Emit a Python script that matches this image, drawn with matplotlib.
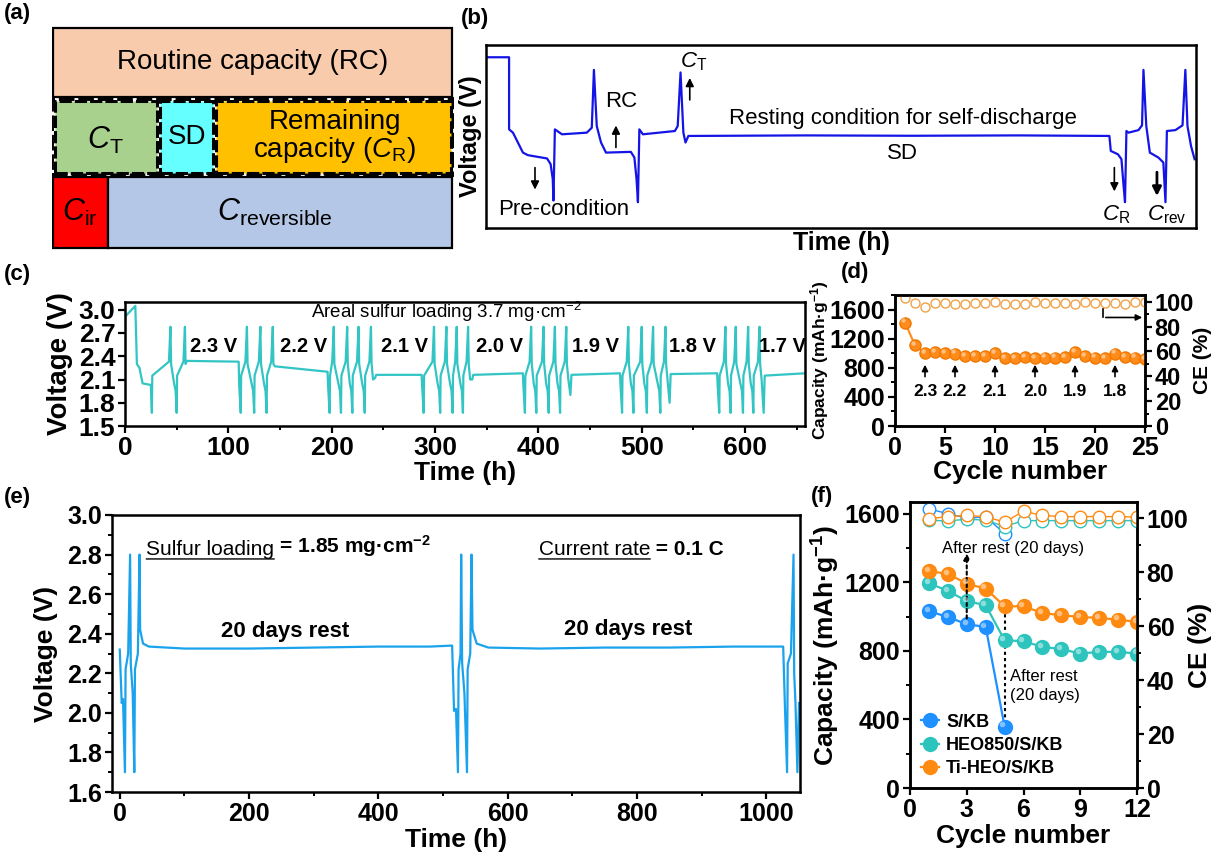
import numpy as np
import matplotlib
matplotlib.use('Agg')
import matplotlib.pyplot as plt
import matplotlib.transforms as mtransforms
from matplotlib.patches import Rectangle
from matplotlib.ticker import MultipleLocator

plt.rcParams['font.family'] = ['Liberation Sans', 'DejaVu Sans']
plt.rcParams['mathtext.fontset'] = 'custom'
plt.rcParams['mathtext.rm'] = 'Liberation Sans'
plt.rcParams['mathtext.it'] = 'Liberation Sans:italic'
plt.rcParams['mathtext.bf'] = 'Liberation Sans:bold'
plt.rcParams['axes.linewidth'] = 1.8

# ---------------- (a) capacity breakdown blocks ----------------
a_labels = ['Routine capacity (RC)', r'$\mathit{C}_{\mathrm{T}}$', 'SD',
            'Remaining\ncapacity ($\\mathit{C}_{\\mathrm{R}}$)',
            r'$\mathit{C}_{\mathrm{ir}}$', r'$\mathit{C}_{\mathrm{reversible}}$']
a_colors = ['#F8CBAD', '#A9D18E', '#66FFFF', '#FFC000', '#FF0000', '#B4C7E7']
a_xspan = [(1, 400), (3, 105), (108, 161), (164, 399), (1, 56), (56, 400)]
a_yspan = [(153, 222), (77, 149), (77, 149), (77, 149), (2, 73), (2, 73)]
a_dashed = [False, True, True, True, False, False]
a_text_xy = [(201, 188), (53, 110), (135, 113), (283, 113), (28, 38), (223, 38)]

# ---------------- (b) schematic protocol (arbitrary units) ----------------
b_t = [0, 3.25, 3.25, 3.8, 5.2, 5.9, 8.6, 9.1, 9.4, 9.5, 9.7, 10.7, 14.2, 14.9, 15.2,
       15.6, 16.2, 16.9, 20.4, 20.9, 21.2, 21.4, 21.6, 22.1, 26.6, 27.0, 27.4, 27.8,
       28.1, 28.5, 45, 60, 75, 87.8, 88.0, 89.0, 89.5, 89.8, 90.0, 90.2, 90.5, 91.9,
       92.4, 92.6, 93.0, 93.5, 94.7, 95.4, 95.7, 95.9, 97.1, 98.1, 98.5, 98.8, 99.3, 99.8]
b_v = [93.3, 93.3, 53.9, 52.1, 41.2, 39.8, 38.0, 34.9, 26.8, 15.0, 53.9, 51.2, 52.1,
       54.8, 86.4, 55.7, 46.7, 41.2, 41.6, 38.5, 26.8, 14.1, 53.9, 51.2, 53.0, 55.7,
       85.0, 52.1, 46.7, 50.3, 50.6, 50.4, 50.6, 50.3, 42.1, 40.3, 37.6, 23.1, 14.1,
       53.0, 52.1, 53.5, 56.1, 86.4, 55.7, 41.2, 38.5, 35.8, 14.1, 53.0, 53.5, 56.1,
       86.4, 55.7, 44.8, 37.6]

# ---------------- (c) voltage-hold test, 3.7 mg cm-2 ----------------
c_start_t = [0, 10, 11.5, 14, 17, 25]
c_start_v = [2.91, 3.05, 2.30, 2.25, 2.05, 2.03]
c_dips = [[26, 50], [112, 125, 137], [198, 209, 220, 232], [289, 305, 317, 327],
          [387, 398, 410, 421], [481, 492, 505, 518], [575, 586, 598, 608]]
c_spikes = [[44, 58], [118, 131, 143], [202, 215, 226, 238], [299, 311, 321, 332],
            [393, 405, 416, 427], [487, 500, 511, 523], [581, 591, 603, 614]]
c_tail_min = [None, None, 2.12, 2.10, 1.90, 1.80, 1.67]
c_rest_v = [(2.34, 2.33), (2.27, 2.20), (2.16, 2.16), (2.16, 2.18),
            (2.16, 2.18), (2.17, 2.18), (2.15, 2.18)]
c_end = 658
c_hold_labels = ['2.3 V', '2.2 V', '2.1 V', '2.0 V', '1.9 V', '1.8 V', '1.7 V']
c_hold_label_t = [86, 173, 270, 362, 455, 549, 636]

# ---------------- (d) capacity / CE during hold test ----------------
d_cycle = np.arange(1, 26)
d_cap = [1420, 1110, 1000, 1020, 1005, 995, 965, 965, 965, 1005, 930, 930, 945, 930,
         940, 940, 950, 1010, 965, 940, 930, 995, 950, 940, 920]
d_ce = [102.7, 98.7, 95.5, 98.7, 98.7, 98.5, 98.5, 98.7, 98.7, 100.0, 98.2, 98.5, 98.5,
        99.5, 98.7, 98.7, 99.0, 98.3, 99.5, 99.0, 99.0, 98.7, 98.5, 99.5, 99.5]
d_arrow_cycles = [3, 6, 10, 14, 18, 22]
d_arrow_labels = ['2.3', '2.2', '2.1', '2.0', '1.9', '1.8']

# ---------------- (e) 20-day rest test ----------------
e_time = [0, 3, 5, 8, 9, 13, 16, 17, 20, 22.5, 23.5, 28, 30.6, 31.5, 36, 45,
          100, 200, 300, 400, 480, 514, 517, 520, 523, 524, 527, 528, 529.5, 533,
          537, 538, 542, 544, 545.5, 552, 570, 650, 750, 850, 950, 1026,
          1029, 1032, 1033, 1038, 1042, 1043, 1045, 1048, 1050.5]
e_volt = [2.32, 2.05, 2.07, 1.70, 2.22, 2.30, 2.80, 2.25, 2.10, 1.70, 2.22, 2.30,
          2.80, 2.42, 2.35, 2.335, 2.325, 2.325, 2.33, 2.335, 2.335, 2.34, 2.01, 2.02,
          1.70, 2.22, 2.30, 2.80, 2.25, 2.10, 1.70, 2.22, 2.30, 2.80, 2.42, 2.35,
          2.33, 2.325, 2.33, 2.33, 2.335, 2.335, 2.00, 1.70, 2.25, 2.30, 2.80, 2.20,
          2.05, 1.70, 2.05]

# ---------------- (f) cycling with a 20-day rest ----------------
f_cycle = np.arange(1, 13)
f_cap_s = [1032, 999, 956, 941, 359]
f_cap_heo = [1197, 1150, 1092, 1067, 863, 857, 824, 811, 785, 795, 795, 785]
f_cap_ti = [1266, 1251, 1193, 1164, 1061, 1061, 1022, 1008, 999, 993, 983, 970]
f_ce_s = [103.4, 101.7, 100.0, 100.5, 94.3]
f_ce_heo = [99.2, 99.0, 99.6, 99.3, 96.9, 99.1, 99.1, 99.1, 99.1, 99.1, 99.1, 99.1]
f_ce_ti = [99.8, 100.6, 101.0, 100.6, 98.5, 102.6, 101.0, 100.6, 100.6, 100.6, 100.6, 100.4]
f_names = ['S/KB', 'HEO850/S/KB', 'Ti-HEO/S/KB']
f_colors = ['#1E90FF', '#2EC4BE', '#FF8A12']


def px_box(x0, y0, x1, y1, W=1215, H=852):
    return [x0 / W, 1 - y1 / H, (x1 - x0) / W, (y1 - y0) / H]


def style_ticks(ax, size):
    ax.tick_params(which='major', direction='out', length=5, width=1.6, labelsize=size, pad=2)
    ax.tick_params(which='minor', direction='out', length=3, width=1.4)
    for lab in ax.get_xticklabels() + ax.get_yticklabels():
        lab.set_fontweight('bold')


def shine(ax, x, y, ms, fig):
    # small light spot on the filled markers so they read as balls
    off = mtransforms.ScaledTranslation(-1.6 / 72, 1.6 / 72, fig.dpi_scale_trans)
    ax.plot(x, y, 'o', ls='none', ms=ms * 0.4, color='white', alpha=0.45, mew=0,
            transform=ax.transData + off, zorder=4)


def build_c_trace():
    t = list(c_start_t)
    v = list(c_start_v)
    for k in range(len(c_dips)):
        dips, spikes = c_dips[k], c_spikes[k]
        for i, (d, s) in enumerate(zip(dips, spikes)):
            if i > 0:
                t += [d - 2.5, d - 1.0]
                v += [2.05, 1.95]
            elif k > 0:
                t += [d - 1.5]
                v += [2.02]
            t += [d, d + 0.4, s - 1.5, s, s + 0.6]
            v += [1.67, 2.15, 2.33, 2.78, 2.30]
        s = spikes[-1]
        rv0, rv1 = c_rest_v[k]
        if c_tail_min[k] is not None:
            t += [s + 2.0, s + 4.0, s + 5.0]
            v += [2.10, c_tail_min[k], rv0]
        else:
            t += [s + 2.0]
            v += [rv0]
        t_end = c_dips[k + 1][0] - 2.0 if k + 1 < len(c_dips) else c_end
        t += [t_end]
        v += [rv1]
    return t, v


fig = plt.figure(figsize=(12.15, 8.52), dpi=100)

for lab, (x, y) in zip(['(a)', '(b)', '(c)', '(d)', '(e)', '(f)'],
                       [(4, 3), (461, 8), (4, 264), (841, 262), (4, 487), (811, 486)]):
    fig.text(x / 1215, 1 - y / 852, lab, fontsize=16, fontweight='bold', va='top', ha='left')

# ---- (a)
ax = fig.add_axes(px_box(52, 26, 454, 250))
ax.set_xlim(0, 402)
ax.set_ylim(0, 224)
ax.axis('off')
# dashed frame around the middle row
ax.add_patch(Rectangle((0, 75), 401, 76, fc='white', ec='k', lw=2.8, ls=(0, (4, 1))))
for lab, col, (x0, x1), (y0, y1), dash, (tx, ty) in zip(a_labels, a_colors, a_xspan,
                                                         a_yspan, a_dashed, a_text_xy):
    if dash:
        ax.add_patch(Rectangle((x0, y0), x1 - x0, y1 - y0, fc=col, ec='k', lw=2.2,
                               ls=(0, (4, 1))))
    else:
        ax.add_patch(Rectangle((x0, y0), x1 - x0, y1 - y0, fc=col, ec='k', lw=1.6))
    fs = 22 if lab.startswith('$') else 20
    ax.text(tx, ty, lab, fontsize=fs, ha='center', va='center', linespacing=1.0)

# ---- (b)
ax = fig.add_axes(px_box(486, 45, 1196, 228))
ax.plot(b_t, b_v, color='#1414E6', lw=1.6)
ax.set_xlim(0, 100)
ax.set_ylim(0, 100)
ax.set_xticks([])
ax.set_yticks([])
ax.set_ylabel('Voltage (V)', fontsize=17, fontweight='bold', labelpad=3)
ax.set_xlabel('Time (h)', fontsize=18, fontweight='bold', labelpad=2)
bfs = 16
ax.text(11, 10, 'Pre-condition', fontsize=bfs, ha='center', va='center')
ax.text(19, 69, 'RC', fontsize=bfs, ha='center', va='center')
ax.text(29.2, 91, r'$\mathit{C}_{\mathrm{T}}$', fontsize=bfs, ha='center', va='center')
ax.text(58.7, 59.7, 'Resting condition for self-discharge', fontsize=bfs, ha='center', va='center')
ax.text(58.7, 40.7, 'SD', fontsize=bfs, ha='center', va='center')
ax.text(88.8, 7.5, r'$\mathit{C}_{\mathrm{R}}$', fontsize=bfs, ha='center', va='center')
ax.text(95.9, 7.5, r'$\mathit{C}_{\mathrm{rev}}$', fontsize=bfs, ha='center', va='center')
arr = dict(arrowstyle='-|>', color='k', lw=1.2, mutation_scale=12, shrinkA=0, shrinkB=0)
ax.annotate('', xy=(6.9, 21), xytext=(6.9, 33), arrowprops=arr)
ax.annotate('', xy=(18.3, 56), xytext=(18.3, 44), arrowprops=arr)
ax.annotate('', xy=(28.7, 82), xytext=(28.7, 70), arrowprops=arr)
ax.annotate('', xy=(88.5, 20), xytext=(88.5, 33), arrowprops=arr)
ax.annotate('', xy=(94.5, 17.5), xytext=(94.5, 30.5),
            arrowprops=dict(arrowstyle='-|>', color='k', lw=2.0, mutation_scale=13,
                            shrinkA=0, shrinkB=0))

# ---- (c)
ax = fig.add_axes(px_box(125, 302, 805, 426))
ct, cv = build_c_trace()
ax.plot(ct, cv, color='#33C4C4', lw=1.6)
ax.set_xlim(0, c_end)
ax.set_ylim(1.5, 3.1)
ax.set_yticks(np.arange(1.5, 3.01, 0.3))
ax.set_yticklabels(['%.1f' % y for y in np.arange(1.5, 3.01, 0.3)])
ax.xaxis.set_major_locator(MultipleLocator(100))
ax.xaxis.set_minor_locator(MultipleLocator(50))
style_ticks(ax, 19)
ax.set_ylabel('Voltage (V)', fontsize=20, fontweight='bold', labelpad=4)
ax.set_xlabel('Time (h)', fontsize=19, fontweight='bold', labelpad=1)
ax.text(311, 2.975, 'Areal sulfur loading 3.7 mg·cm$^{-2}$', fontsize=13.5, ha='center',
        va='center')
for lab, tx in zip(c_hold_labels, c_hold_label_t):
    ax.text(tx, 2.52, lab, fontsize=14.5, fontweight='bold', ha='center', va='center')

# ---- (d)
ax = fig.add_axes(px_box(895, 295, 1145, 426))
ax2 = ax.twinx()
ax.plot(d_cycle, d_cap, '-o', color='#FF8C1A', lw=1.5, ms=8, mec='#F07800', zorder=3)
shine(ax, d_cycle, d_cap, 8, fig)
ax2.plot(d_cycle, d_ce, 'o', color='#F0A24A', mfc='none', ms=6.5, mew=1.0)
ax.set_xlim(0, 25)
ax.set_ylim(0, 1800)
ax2.set_ylim(0, 105.5)
ax.xaxis.set_major_locator(MultipleLocator(5))
ax.yaxis.set_major_locator(MultipleLocator(400))
ax.yaxis.set_minor_locator(MultipleLocator(200))
ax2.yaxis.set_major_locator(MultipleLocator(20))
ax2.yaxis.set_minor_locator(MultipleLocator(10))
style_ticks(ax, 18)
style_ticks(ax2, 17)
ax.set_ylabel('Capacity (mAh·g$^{\\mathbf{-1}}$)', fontsize=12.5, fontweight='bold',
              labelpad=-1)
ax2.set_ylabel('CE (%)', fontsize=15, fontweight='bold', labelpad=-1)
ax.set_xlabel('Cycle number', fontsize=19, fontweight='bold', labelpad=0)
for cyc, lab in zip(d_arrow_cycles, d_arrow_labels):
    ax.annotate('', xy=(cyc, 880), xytext=(cyc, 640),
                arrowprops=dict(arrowstyle='-|>', color='k', lw=1.2, mutation_scale=9))
    ax.text(cyc, 470, lab, fontsize=12.5, fontweight='bold', ha='center', va='center')
ax2.plot([20.8, 20.8], [94, 87.4], color='k', lw=1.2)
ax2.annotate('', xy=(25, 87.4), xytext=(20.8, 87.4),
             arrowprops=dict(arrowstyle='-|>', color='k', lw=1.2, mutation_scale=9))

# ---- (e)
ax = fig.add_axes(px_box(112, 515, 800, 792))
ax.plot(e_time, e_volt, color='#1AA3EC', lw=1.6)
ax.set_xlim(-12, 1052)
ax.set_ylim(1.6, 3.0)
ax.xaxis.set_major_locator(MultipleLocator(200))
ax.xaxis.set_minor_locator(MultipleLocator(100))
ax.yaxis.set_minor_locator(MultipleLocator(0.1))
ax.set_yticks(np.arange(1.6, 3.01, 0.2))
ax.set_yticklabels(['%.1f' % y for y in np.arange(1.6, 3.01, 0.2)])
style_ticks(ax, 18)
ax.set_ylabel('Voltage (V)', fontsize=19, fontweight='bold', labelpad=7)
ax.set_xlabel('Time (h)', fontsize=19, fontweight='bold', labelpad=2)
ax.text(256, 2.41, '20 days rest', fontsize=16, fontweight='bold', ha='center', va='center')
ax.text(786, 2.42, '20 days rest', fontsize=16, fontweight='bold', ha='center', va='center')
for x0, txt, rest in [(41, 'Sulfur loading', ' = 1.85 mg·cm$^{\\mathbf{-2}}$'),
                      (648, 'Current rate', ' = 0.1 C')]:
    t1 = ax.text(x0, 2.80, txt, fontsize=15, ha='left', va='baseline')
    ax.annotate(rest, xy=(1, 0), xycoords=t1, fontsize=15, fontweight='bold',
                ha='left', va='bottom')
    ax.annotate('', xy=(0, -0.02), xycoords=t1, xytext=(1, -0.02), textcoords=t1,
                arrowprops=dict(arrowstyle='-', color='k', lw=1.0, shrinkA=0, shrinkB=0))

# ---- (f)
ax = fig.add_axes(px_box(910, 502, 1137, 788))
ax2 = ax.twinx()
handles = []
for cap, ce, name, col in zip([f_cap_s, f_cap_heo, f_cap_ti], [f_ce_s, f_ce_heo, f_ce_ti],
                              f_names, f_colors):
    n = len(cap)
    h, = ax.plot(f_cycle[:n], cap, '-o', color=col, lw=1.6, ms=10, label=name, zorder=3)
    shine(ax, f_cycle[:n], cap, 10, fig)
    handles.append(h)
    ax2.plot(f_cycle[:len(ce)], ce, '-o', color=col, lw=1.0, ms=9, mfc='white', mew=1.0)
ax.set_xlim(0, 12)
ax.set_ylim(0, 1670)
ax2.set_ylim(0, 106)
ax.xaxis.set_major_locator(MultipleLocator(3))
ax.yaxis.set_major_locator(MultipleLocator(400))
ax.yaxis.set_minor_locator(MultipleLocator(200))
ax2.yaxis.set_major_locator(MultipleLocator(20))
ax2.yaxis.set_minor_locator(MultipleLocator(10))
style_ticks(ax, 18)
style_ticks(ax2, 18)
ax.set_ylabel('Capacity (mAh·g$^{\\mathbf{-1}}$)', fontsize=19, fontweight='bold', labelpad=2)
ax2.set_ylabel('CE (%)', fontsize=19, fontweight='bold', labelpad=0)
ax.set_xlabel('Cycle number', fontsize=19, fontweight='bold', labelpad=2)
ax.annotate('', xy=(3, 1370), xytext=(3, 990),
            arrowprops=dict(arrowstyle='-|>', color='k', lw=1.5, ls=(0, (1.5, 1.5)),
                            mutation_scale=9, shrinkA=0, shrinkB=0))
ax.plot([5, 5], [1050, 370], color='k', lw=1.5, ls=(0, (1.5, 1.5)), zorder=2)
ax.text(1.68, 1400, 'After rest (20 days)', fontsize=12, ha='left', va='center')
ax.text(5.3, 595, 'After rest\n(20 days)', fontsize=12, ha='left', va='center',
        linespacing=1.3)
ax.legend(handles=handles, loc='lower left', frameon=False, handlelength=1.0,
          handletextpad=0.4, labelspacing=0.35, borderaxespad=0.2,
          prop={'size': 13, 'weight': 'bold'})

fig.savefig('out.png', dpi=100)
